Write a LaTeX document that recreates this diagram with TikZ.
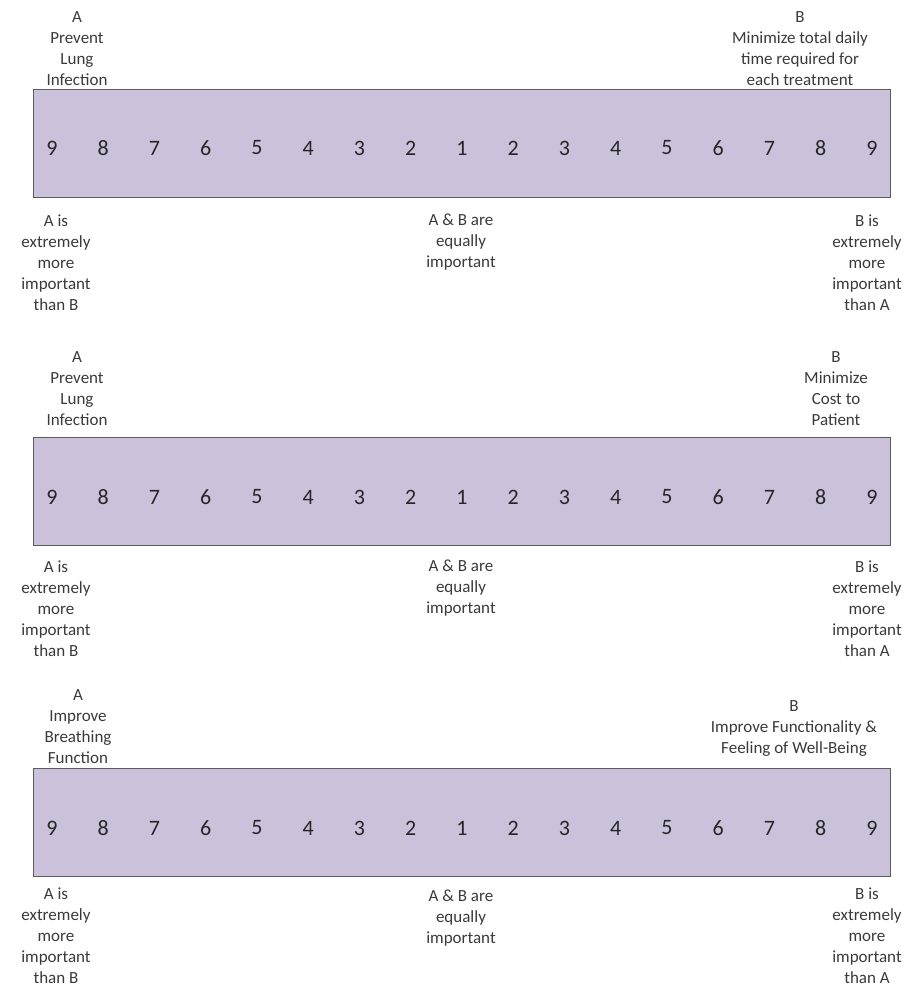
\documentclass[tikz,border=0pt]{standalone}
\usepackage{fontspec}
\setmainfont{Carlito}
\definecolor{scalefill}{HTML}{CCC1DA}
\definecolor{scaleedge}{HTML}{5C5C5C}
\definecolor{labeltext}{HTML}{3A3A3A}
\definecolor{numtext}{HTML}{262626}

\begin{document}
\begin{tikzpicture}[x=1pt,y=-1pt,
  scalebar/.style={draw=scaleedge, line width=1.4pt, fill=scalefill,
    minimum width=857pt, minimum height=108pt, anchor=north west, inner sep=0pt},
  scalenum/.style={font=\fontsize{22}{26}\selectfont, text=numtext, inner sep=0pt},
  lbl/.style={font=\fontsize{17}{21}\selectfont, align=center, text=labeltext, inner sep=0pt}]

  % canvas
  \useasboundingbox (0,0) rectangle (904,988);

  % --- comparison 1 ---
  \node[scalebar] (bar1) at (33,89) {};
  \foreach \i in {0,...,16} {
    \pgfmathtruncatemacro{\v}{abs(8-\i)+1}
    \node[scalenum] (bar1-n\i) at ({52+51.25*\i},148) {\v};
  }
  \node[lbl] (a1) at (77,49) {A\\Prevent\\Lung\\Infection};
  \node[lbl] (b1) at (800,49) {B\\Minimize total daily\\time required for\\each treatment};
  \node[lbl] (la1) at (56,263) {A is\\extremely\\more\\important\\than B};
  \node[lbl] (eq1) at (461,242) {A \& B are\\equally\\important};
  \node[lbl] (lb1) at (867,263) {B is\\extremely\\more\\important\\than A};

  % --- comparison 2 ---
  \node[scalebar] (bar2) at (33,437) {};
  \foreach \i in {0,...,16} {
    \pgfmathtruncatemacro{\v}{abs(8-\i)+1}
    \node[scalenum] (bar2-n\i) at ({52+51.25*\i},497) {\v};
  }
  \node[lbl] (a2) at (77,389) {A\\Prevent\\Lung\\Infection};
  \node[lbl] (b2) at (836,389) {B\\Minimize\\Cost to\\Patient};
  \node[lbl] (la2) at (56,609) {A is\\extremely\\more\\important\\than B};
  \node[lbl] (eq2) at (461,588) {A \& B are\\equally\\important};
  \node[lbl] (lb2) at (867,609) {B is\\extremely\\more\\important\\than A};

  % --- comparison 3 ---
  \node[scalebar] (bar3) at (33,768) {};
  \foreach \i in {0,...,16} {
    \pgfmathtruncatemacro{\v}{abs(8-\i)+1}
    \node[scalenum] (bar3-n\i) at ({52+51.25*\i},828) {\v};
  }
  \node[lbl] (a3) at (78,727) {A\\Improve\\Breathing\\Function};
  \node[lbl] (b3) at (794,728) {B\\Improve Functionality \&\\Feeling of Well-Being};
  \node[lbl] (la3) at (56,936) {A is\\extremely\\more\\important\\than B};
  \node[lbl] (eq3) at (461,918) {A \& B are\\equally\\important};
  \node[lbl] (lb3) at (867,936) {B is\\extremely\\more\\important\\than A};
\end{tikzpicture}
\end{document}
